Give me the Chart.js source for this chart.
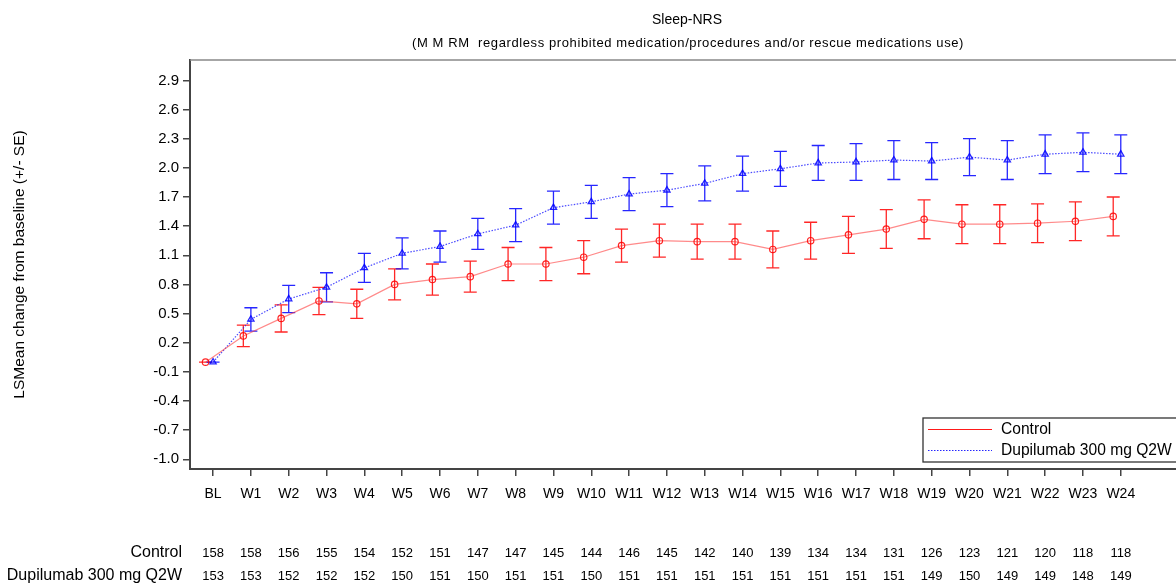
<!DOCTYPE html>
<html>
<head>
<meta charset="utf-8">
<title>Sleep-NRS</title>
<script src="https://cdn.jsdelivr.net/npm/chart.js@4/dist/chart.umd.min.js"></script>
<style>
  html, body { margin: 0; padding: 0; background: #fff; }
  #wrap { position: relative; width: 1176px; height: 583px; }
</style>
</head>
<body>
<div id="wrap"><canvas id="sleepChart"></canvas></div>
<script>
// Visits and LS mean change from baseline (+/- SE) per arm
const visits = ['BL', 'W1', 'W2', 'W3', 'W4', 'W5', 'W6', 'W7', 'W8', 'W9', 'W10', 'W11', 'W12',
                'W13', 'W14', 'W15', 'W16', 'W17', 'W18', 'W19', 'W20', 'W21', 'W22', 'W23', 'W24'];

const controlMean = [0.00, 0.27, 0.45, 0.63, 0.60, 0.80, 0.85, 0.88, 1.01, 1.01, 1.08, 1.20, 1.25,
                     1.24, 1.24, 1.16, 1.25, 1.31, 1.37, 1.47, 1.42, 1.42, 1.43, 1.45, 1.50];
const controlSE = [0.00, 0.11, 0.14, 0.14, 0.15, 0.16, 0.16, 0.16, 0.17, 0.17, 0.17, 0.17, 0.17,
                   0.18, 0.18, 0.19, 0.19, 0.19, 0.20, 0.20, 0.20, 0.20, 0.20, 0.20, 0.20];

const dupiMean = [0.00, 0.44, 0.65, 0.77, 0.97, 1.12, 1.19, 1.32, 1.41, 1.59, 1.65, 1.73, 1.77,
                  1.84, 1.94, 1.99, 2.05, 2.06, 2.08, 2.07, 2.11, 2.08, 2.14, 2.16, 2.14];
const dupiSE = [0.00, 0.12, 0.14, 0.15, 0.15, 0.16, 0.16, 0.16, 0.17, 0.17, 0.17, 0.17, 0.17,
                0.18, 0.18, 0.18, 0.18, 0.19, 0.20, 0.19, 0.19, 0.20, 0.20, 0.20, 0.20];

// Number of patients at each visit
const controlN = [158, 158, 156, 155, 154, 152, 151, 147, 147, 145, 144, 146, 145,
                  142, 140, 139, 134, 134, 131, 126, 123, 121, 120, 118, 118];
const dupiN = [153, 153, 152, 152, 152, 150, 151, 150, 151, 151, 150, 151, 151,
               151, 151, 151, 151, 151, 151, 149, 150, 149, 149, 148, 149];

const yTicks = [-1.0, -0.7, -0.4, -0.1, 0.2, 0.5, 0.8, 1.1, 1.4, 1.7, 2.0, 2.3, 2.6, 2.9];

const armNames = ['Control', 'Dupilumab 300 mg Q2W'];

// control points sit slightly left of the visit so the bars don't overlap
const CONTROL_SHIFT = -0.2;

const FONT = 'Liberation Sans, Arial, sans-serif';
const RED = 'rgba(255, 0, 0, 0.85)';
const BLUE = 'rgba(0, 0, 255, 0.85)';

function toPoints(means, shift) {
    return means.map((v, i) => ({ x: i + shift, y: v }));
}

// whiskers drawn under the lines and markers
const errorBars = {
    id: 'errorBars',
    beforeDatasetsDraw(chart) {
        const ctx = chart.ctx;
        const xs = chart.scales.x, ys = chart.scales.y;
        const sets = [
            { mean: controlMean, se: controlSE, shift: CONTROL_SHIFT, color: RED },
            { mean: dupiMean, se: dupiSE, shift: 0, color: BLUE }
        ];
        ctx.save();
        ctx.lineWidth = 1.3;
        sets.forEach(s => {
            ctx.strokeStyle = s.color;
            s.mean.forEach((m, i) => {
                const px = xs.getPixelForValue(i + s.shift);
                const hi = ys.getPixelForValue(m + s.se[i]);
                const lo = ys.getPixelForValue(m - s.se[i]);
                const cap = 6.5;
                ctx.beginPath();
                ctx.moveTo(px, hi); ctx.lineTo(px, lo);
                ctx.moveTo(px - cap, hi); ctx.lineTo(px + cap, hi);
                ctx.moveTo(px - cap, lo); ctx.lineTo(px + cap, lo);
                ctx.stroke();
            });
        });
        ctx.restore();
    }
};

// titles, frame top, legend box and the patient count table
const decorations = {
    id: 'decorations',
    afterDraw(chart) {
        const ctx = chart.ctx;
        const area = chart.chartArea;
        const xs = chart.scales.x;
        ctx.save();

        ctx.strokeStyle = '#888';
        ctx.lineWidth = 1.5;
        ctx.beginPath();
        ctx.moveTo(area.left, area.top);
        ctx.lineTo(chart.width, area.top);
        ctx.stroke();

        // x axis line carries on to the edge
        ctx.strokeStyle = '#444';
        ctx.lineWidth = 2;
        ctx.beginPath();
        ctx.moveTo(area.right - 1, area.bottom);
        ctx.lineTo(chart.width, area.bottom);
        ctx.stroke();

        ctx.fillStyle = '#000';
        ctx.textAlign = 'center';
        ctx.textBaseline = 'middle';
        ctx.font = '14px ' + FONT;
        ctx.fillText('Sleep-NRS', 687, 20);
        ctx.font = '13px ' + FONT;
        ctx.letterSpacing = '0.6px';
        ctx.fillText('(M M RM  regardless prohibited medication/procedures and/or rescue medications use)', 688, 43);
        ctx.letterSpacing = '0px';

        // legend
        const lx = 923, ly = 418;
        ctx.fillStyle = '#fff';
        ctx.fillRect(lx, ly, 260, 44);
        ctx.strokeStyle = '#333';
        ctx.lineWidth = 1.3;
        ctx.strokeRect(lx, ly, 260, 44);
        ctx.lineWidth = 1;
        ctx.strokeStyle = 'rgba(255, 0, 0, 0.9)';
        ctx.beginPath();
        ctx.moveTo(928, 429.5); ctx.lineTo(992, 429.5);
        ctx.stroke();
        ctx.strokeStyle = BLUE;
        ctx.setLineDash([1.5, 1.5]);
        ctx.beginPath();
        ctx.moveTo(928, 450.5); ctx.lineTo(992, 450.5);
        ctx.stroke();
        ctx.setLineDash([]);
        ctx.fillStyle = '#000';
        ctx.textAlign = 'left';
        ctx.font = '15.6px ' + FONT;
        ctx.fillText(armNames[0], 1001, 430);
        ctx.fillText(armNames[1], 1001, 451);

        // patients at risk table
        ctx.textAlign = 'right';
        ctx.font = '16px ' + FONT;
        ctx.fillText(armNames[0], 182, 553);
        ctx.fillText(armNames[1], 182, 576);
        ctx.textAlign = 'center';
        ctx.font = '13px ' + FONT;
        visits.forEach((v, i) => {
            const px = xs.getPixelForValue(i);
            ctx.fillText(String(controlN[i]), px, 553);
            ctx.fillText(String(dupiN[i]), px, 576);
        });
        ctx.restore();
    }
};

const ctx = document.getElementById('sleepChart').getContext('2d');
const sleepChart = new Chart(ctx, {
    type: 'line',
    data: {
        datasets: [
            {
                label: armNames[0],
                data: toPoints(controlMean, CONTROL_SHIFT),
                borderColor: 'rgba(255, 60, 60, 0.6)',
                borderWidth: 1.2,
                pointStyle: 'circle',
                pointRadius: 3.2,
                pointBorderWidth: 1.2,
                pointBorderColor: RED,
                pointBackgroundColor: 'rgba(0,0,0,0)',
                tension: 0
            },
            {
                label: armNames[1],
                data: toPoints(dupiMean, 0),
                borderColor: 'rgba(30, 30, 255, 0.8)',
                borderWidth: 1.2,
                borderDash: [1.5, 1.5],
                pointStyle: 'triangle',
                pointRadius: 3.6,
                pointBorderWidth: 1.3,
                pointBorderColor: BLUE,
                pointBackgroundColor: 'rgba(0,0,0,0)',
                tension: 0
            }
        ]
    },
    options: {
        responsive: true,
        maintainAspectRatio: false,
        animation: false,
        layout: { padding: { top: 60, right: 0, bottom: 0, left: 0 } },
        plugins: {
            legend: { display: false },
            tooltip: { enabled: false }
        },
        scales: {
            x: {
                type: 'linear',
                // BL lands at 213px and W24 at 1120px
                min: -0.61,
                max: 25.32,
                afterBuildTicks: scale => {
                    scale.ticks = visits.map((v, i) => ({ value: i }));
                },
                afterFit: scale => { scale.height = 114; },
                ticks: {
                    callback: value => visits[value],
                    color: '#000',
                    font: { family: FONT, size: 14 },
                    padding: 10,
                    maxRotation: 0,
                    autoSkip: false
                },
                grid: { drawOnChartArea: false, tickLength: 7, color: '#444', lineWidth: 1.5 },
                border: { color: '#444', width: 2 }
            },
            y: {
                min: -1.1,
                max: 3.11,
                afterBuildTicks: scale => {
                    scale.ticks = yTicks.map(v => ({ value: v }));
                },
                afterFit: scale => { scale.width = 190; },
                ticks: {
                    callback: value => value.toFixed(1),
                    color: '#000',
                    font: { family: FONT, size: 15 },
                    padding: 4
                },
                grid: { drawOnChartArea: false, tickLength: 7, color: '#444', lineWidth: 1.5 },
                border: { color: '#444', width: 2 },
                title: {
                    display: true,
                    text: 'LSMean change from baseline (+/- SE)',
                    color: '#000',
                    font: { family: FONT, size: 15.5 },
                    padding: { top: 10, bottom: 0 }
                }
            }
        }
    },
    plugins: [errorBars, decorations]
});
</script>
</body>
</html>
